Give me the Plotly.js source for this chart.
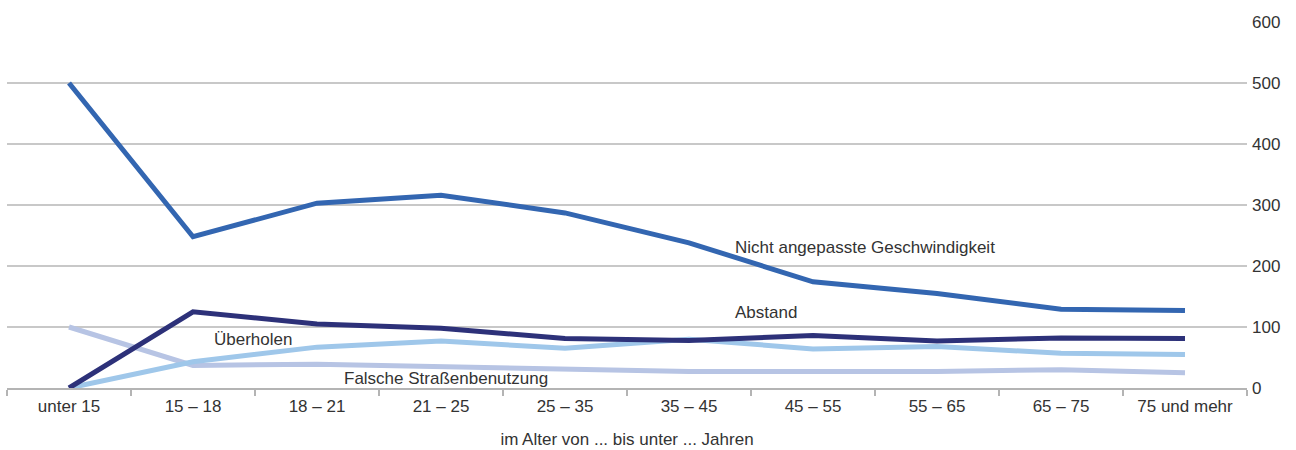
<!DOCTYPE html>
<html>
<head>
<meta charset="utf-8">
<script src="https://cdn.plot.ly/plotly-3.0.1.min.js"></script>
<style>html,body{margin:0;padding:0;background:#fff;}#chart{width:1296px;height:450px;}</style>
</head>
<body>
<div id="chart"></div>
<script>
const categories = ["unter 15", "15 – 18", "18 – 21", "21 – 25", "25 – 35", "35 – 45", "45 – 55", "55 – 65", "65 – 75", "75 und mehr"];
const geschwindigkeit = [500, 248, 303, 316, 287, 238, 174, 155, 129, 127];
const abstand = [0, 125, 105, 98, 81, 78, 86, 77, 82, 81];
const ueberholen = [0, 43, 67, 77, 65, 80, 64, 68, 57, 55];
const strassenbenutzung = [100, 37, 39, 35, 33, 27, 27, 27, 30, 25];
const seriesNames = ["Falsche Straßenbenutzung", "Überholen", "Abstand", "Nicht angepasste Geschwindigkeit"];
const yTicks = [0, 100, 200, 300, 400, 500, 600];

function tr(name, y, color) {
  return {type: "scatter", mode: "lines", x: categories, y: y, name: name,
    line: {color: color, width: 5}, cliponaxis: false, hoverinfo: "skip"};
}
const data = [
  tr(seriesNames[0], strassenbenutzung, "#b7c4e4"),
  tr(seriesNames[1], ueberholen, "#9fc7ea"),
  tr(seriesNames[2], abstand, "#2d3179"),
  tr(seriesNames[3], geschwindigkeit, "#3366b1")
];
const txt = {family: "Liberation Sans, Arial, sans-serif", size: 17, color: "#333333"};
function ann(text, x, y) {
  return {text: text, xref: "paper", yref: "y", x: x, y: y, xanchor: "left", yanchor: "middle",
    showarrow: false, font: txt};
}
const layout = {
  width: 1296, height: 450,
  margin: {l: 7, r: 49, t: 22, b: 62},
  paper_bgcolor: "#fff", plot_bgcolor: "#fff",
  showlegend: false,
  font: txt,
  xaxis: {
    type: "category", range: [-0.5, 9.5], fixedrange: true,
    showgrid: false, zeroline: false,
    showline: true, linecolor: "#b4b4b4", linewidth: 2,
    ticks: "outside", tickson: "boundaries", ticklen: 6, tickwidth: 2, tickcolor: "#b4b4b4",
    tickfont: txt, ticklabelstandoff: 2,
    title: {text: "im Alter von ... bis unter ... Jahren", font: txt, standoff: 18}
  },
  yaxis: {
    side: "right", range: [0, 600], tickvals: yTicks, ticktext: yTicks.map(String),
    showgrid: true, gridcolor: "#c8c8c8", gridwidth: 2,
    zeroline: false, showline: false, ticks: "", ticklabelstandoff: 4,
    tickfont: txt, fixedrange: true
  },
  annotations: [
    ann("Nicht angepasste Geschwindigkeit", 0.5855, 231),
    ann("Abstand", 0.5855, 123),
    ann("Überholen", 0.1653, 80),
    ann("Falsche Straßenbenutzung", 0.2702, 15)
  ]
};
Plotly.newPlot("chart", data, layout, {displayModeBar: false, staticPlot: true});
</script>
</body>
</html>
